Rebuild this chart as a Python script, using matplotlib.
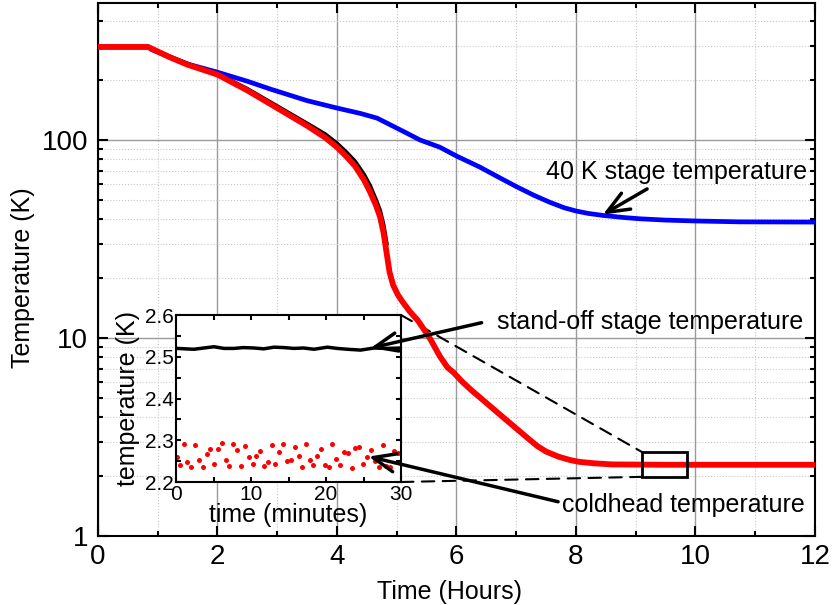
import matplotlib
matplotlib.use("Agg")
import matplotlib.pyplot as plt
from matplotlib.patches import Rectangle, ConnectionPatch
from matplotlib.ticker import MultipleLocator, LogLocator, NullFormatter

plt.rcParams["font.family"] = ["Liberation Sans", "DejaVu Sans"]

# ── data ─────────────────────────────────────────────────────────────────
# 40 K stage (blue)
stage40_hours = [0, 0.84, 0.9, 1.2, 1.54, 2.0, 2.5, 2.88, 3.5, 4.0, 4.4, 4.67,
                 4.9, 5.15, 5.39, 5.72, 6.0, 6.39, 6.7, 7.01, 7.3, 7.56, 7.8,
                 8.0, 8.2, 8.45, 8.8, 9.07, 9.5, 10.0, 10.74, 12.0]
stage40_temp = [295, 295, 286, 262, 240, 220, 198, 181, 158, 145, 136, 129,
                119, 109, 100, 92, 83, 73, 65, 58, 52.5, 48.5, 45.5,
                43.8, 42.6, 41.6, 40.6, 40.0, 39.4, 39.0, 38.6, 38.5]

# coldhead (red)
coldhead_hours = [0, 0.84, 1.2, 1.5, 2.0, 2.5, 3.0, 3.5, 3.8, 4.0, 4.15, 4.3,
                  4.45, 4.55, 4.65, 4.72, 4.78, 4.83, 4.88, 4.94, 5.02, 5.1,
                  5.22, 5.35, 5.46, 5.56, 5.72, 5.85, 5.95, 6.1, 6.25, 6.5,
                  6.75, 6.95, 7.15, 7.35, 7.5, 7.7, 7.9, 8.05, 8.3, 8.6, 9.5,
                  10.5, 12.0]
coldhead_temp = [295, 295, 262, 240, 214, 178, 145, 118, 103, 92, 83, 74,
                 63, 55, 47, 41, 34, 27, 21.5, 18.5, 16.5, 15.2,
                 13.6, 12.3, 11.0, 9.9, 8.1, 7.1, 6.7, 6.0, 5.45, 4.7,
                 4.05, 3.6, 3.2, 2.85, 2.67, 2.52, 2.42, 2.37, 2.33, 2.3, 2.29,
                 2.29, 2.29]

# stand-off stage (black), only visible next to the red curve
standoff_hours = [0.84, 1.2, 1.5, 2.0, 2.5, 3.0, 3.5, 3.8, 4.0, 4.15, 4.3,
                  4.45, 4.55, 4.65, 4.72, 4.78, 4.83]
standoff_temp = [295, 264, 242, 216, 181, 148, 121, 107, 96, 87, 78,
                 67, 59, 50, 44, 37, 30]

# inset: 30 minutes at base temperature
inset_standoff_min = [0, 0.18, 1.2, 2.4, 3.7, 5.07, 6.4, 7.73, 9.0, 10.4,
                      11.7, 13.07, 14.4, 15.73, 17.0, 18.4, 20.18, 21.5,
                      22.84, 24.62, 26.4, 28.2, 30]
inset_standoff_temp = [2.521, 2.520, 2.519, 2.518, 2.521, 2.524, 2.520, 2.520,
                       2.522, 2.521, 2.519, 2.523, 2.522, 2.520, 2.521,
                       2.518, 2.523, 2.520, 2.518, 2.516, 2.521, 2.520, 2.521]

inset_coldhead_min = [0.09, 0.49, 1.07, 1.51, 2.04, 2.53, 3.07, 3.6, 4.09, 4.53,
                      5.07, 5.6, 6.09, 6.62, 7.11, 7.64, 8.18, 8.67, 9.16, 9.69,
                      10.22, 10.71, 11.24, 11.73, 12.22, 12.76, 13.24, 13.78,
                      14.31, 14.8, 15.33, 15.82, 16.36, 16.8, 17.33, 17.82,
                      18.31, 18.84, 19.33, 19.87, 20.36, 20.84, 21.38, 21.87,
                      22.4, 22.98, 23.42, 23.91, 24.44, 24.98, 25.47, 25.96,
                      26.5, 27.02, 27.56, 28.04, 28.58, 29.02, 29.6]
inset_coldhead_temp = [2.261, 2.241, 2.290, 2.247, 2.237, 2.288, 2.253, 2.237,
                       2.268, 2.280, 2.243, 2.280, 2.294, 2.253, 2.239, 2.290,
                       2.276, 2.239, 2.287, 2.261, 2.243, 2.262, 2.275, 2.239,
                       2.248, 2.288, 2.243, 2.272, 2.291, 2.251, 2.253, 2.285,
                       2.262, 2.235, 2.291, 2.253, 2.241, 2.262, 2.278, 2.240,
                       2.237, 2.291, 2.255, 2.240, 2.273, 2.270, 2.233, 2.282,
                       2.284, 2.243, 2.261, 2.276, 2.250, 2.235, 2.289, 2.239,
                       2.237, 2.275, 2.270]

x_ticks = [0, 2, 4, 6, 8, 10, 12]
y_ticks = [1, 10, 100]
y_ticklabels = ["1", "10", "100"]

# ── main axes ─────────────────────────────────────────────────────────────
fig = plt.figure(figsize=(8.33, 6.05), dpi=100)
ax = fig.add_axes([0.1176, 0.1140, 0.8608, 0.8805])

ax.set_yscale("log")
ax.set_xlim(0, 12)
ax.set_ylim(1, 490)

ax.grid(which="major", color="#9a9a9a", lw=1.0, ls="-")
ax.grid(which="minor", color="#c8c8c8", lw=0.8, ls=":")
ax.set_axisbelow(True)

ax.plot(stage40_hours, stage40_temp, color="#0000ff", lw=3.4, zorder=3)
ax.plot(standoff_hours, standoff_temp, color="black", lw=3.0, zorder=3)
ax.plot(coldhead_hours, coldhead_temp, color="#ff0000", lw=4.2, zorder=4)

ax.set_xticks(x_ticks)
ax.xaxis.set_minor_locator(MultipleLocator(1))
ax.set_yticks(y_ticks)
ax.set_yticklabels(y_ticklabels)
ax.yaxis.set_minor_locator(LogLocator(base=10, subs=range(2, 10)))
ax.yaxis.set_minor_formatter(NullFormatter())

ax.tick_params(which="both", direction="in", top=True, right=True, width=1.5)
ax.tick_params(which="major", length=7, labelsize=20)
ax.tick_params(which="minor", length=3.6)
ax.tick_params(axis="y", which="major", pad=7)
ax.tick_params(axis="x", which="major", pad=6)
for s in ax.spines.values():
    s.set_linewidth(1.5)

ax.set_xlabel("Time (Hours)", fontsize=18)
ax.set_ylabel("Temperature (K)", fontsize=18)
ax.xaxis.set_label_coords(0.49, -0.083)
ax.yaxis.set_label_coords(-0.088, 0.485)

# zoom box
ax.add_patch(Rectangle((9.1, 1.99), 0.76, 0.67, fill=False, ec="black",
                       lw=2.0, zorder=5))

# annotations in main axes
ax.annotate("", xy=(8.45, 42), xytext=(9.19, 56.6),
            arrowprops=dict(arrowstyle="->,head_length=0.8,head_width=0.33",
                            lw=2.5, color="black", shrinkA=0, shrinkB=0,
                            mutation_scale=20), zorder=6)
ax.text(7.5, 69, "40 K stage temperature", fontsize=18, ha="left", va="center")
ax.text(6.68, 12.05, "stand-off stage temperature", fontsize=18,
        ha="left", va="center")
ax.text(7.77, 1.435, "coldhead temperature", fontsize=18, ha="left", va="center")

# ── inset ─────────────────────────────────────────────────────────────────
ax_in = fig.add_axes([0.2113, 0.2033, 0.2701, 0.2760])
ax_in.plot(inset_standoff_min, inset_standoff_temp, color="black", lw=2.5)
ax_in.plot(inset_coldhead_min, inset_coldhead_temp, "o", color="#ff0000",
           ms=3.6, mew=0)
ax_in.set_xlim(0, 30)
ax_in.set_ylim(2.2, 2.6)
ax_in.set_xticks([0, 10, 20, 30])
ax_in.set_yticks([2.2, 2.3, 2.4, 2.5, 2.6])
ax_in.xaxis.set_minor_locator(MultipleLocator(5))
ax_in.yaxis.set_minor_locator(MultipleLocator(0.05))
ax_in.tick_params(which="both", direction="in", top=True, right=True,
                  width=1.5, length=3.5, labelsize=15)
ax_in.tick_params(axis="y", pad=1.5)
ax_in.tick_params(axis="x", pad=2)
for s in ax_in.spines.values():
    s.set_linewidth(1.5)
ax_in.set_xlabel("time (minutes)", fontsize=18)
ax_in.set_ylabel("temperature (K)", fontsize=18)
ax_in.xaxis.set_label_coords(0.498, -0.125)
ax_in.yaxis.set_label_coords(-0.16, 0.5)

# dashed lines from inset corners to zoom box
for fy, ty in [(1, 2.66), (0, 1.99)]:
    con = ConnectionPatch(xyA=(1, fy), coordsA=ax_in.transAxes,
                          xyB=(9.1, ty), coordsB=ax.transData,
                          color="black", lw=1.5, ls=(0, (6, 4)), zorder=2)
    ax.add_artist(con)

# arrows from labels into the inset
arrow_kw = dict(arrowstyle="->,head_length=0.8,head_width=0.33", lw=2.5,
                color="black", shrinkA=0, shrinkB=0, mutation_scale=20)
ax_in.annotate("", xy=(25.96, 2.521), xycoords="data",
               xytext=(6.42, 11.95), textcoords=ax.transData,
               arrowprops=arrow_kw, annotation_clip=False)
ax_in.annotate("", xy=(25.69, 2.261), xycoords="data",
               xytext=(7.70, 1.49), textcoords=ax.transData,
               arrowprops=arrow_kw, annotation_clip=False)

fig.savefig("out.png", dpi=100)
